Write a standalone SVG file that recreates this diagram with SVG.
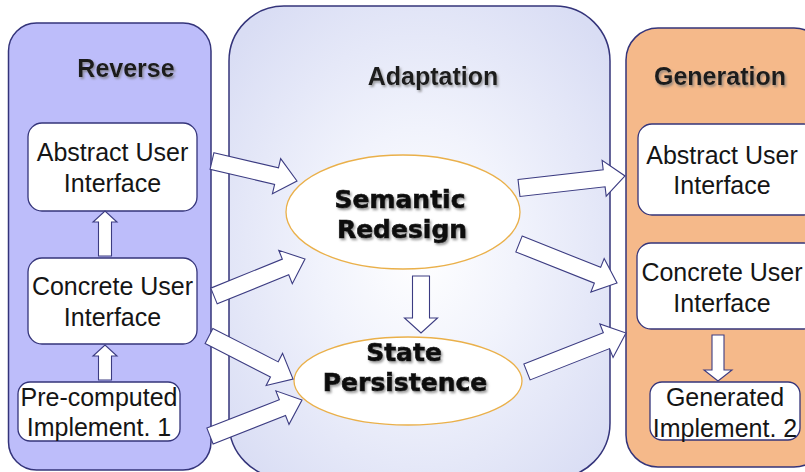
<svg xmlns="http://www.w3.org/2000/svg" width="805" height="472" viewBox="0 0 805 472">
<defs>
<radialGradient id="adaptGrad" cx="0.5" cy="0.52" r="0.65">
<stop offset="0" stop-color="#ffffff"/>
<stop offset="0.4" stop-color="#f1f3fc"/>
<stop offset="1" stop-color="#d9ddf4"/>
</radialGradient>
<filter id="shadow" x="-10%" y="-20%" width="130%" height="150%">
<feDropShadow dx="1.5" dy="2" stdDeviation="1.2" flood-color="#777" flood-opacity="0.7"/>
</filter>
</defs>
<style>
.panel{stroke:#34347a;stroke-width:1.5}
.box{fill:#fff;stroke:#34347a;stroke-width:1.3}
.arrow{fill:#fff;stroke:#3c3c82;stroke-width:1.1;stroke-linejoin:miter}
.title{font-family:"Liberation Sans",Arial,sans-serif;font-weight:bold;font-size:25px;fill:#1e1e1e;text-anchor:middle;filter:url(#shadow)}
.label{font-family:"Liberation Sans",Arial,sans-serif;font-size:25px;fill:#151515;text-anchor:middle}
.ell{fill:#fff;stroke:#eab04a;stroke-width:1.3}
.etext{font-family:"DejaVu Sans",Verdana,sans-serif;font-weight:bold;font-size:25px;fill:#111;stroke:#111;stroke-width:0.7;text-anchor:middle;filter:url(#shadow)}
</style>

<g id="reverse">
<rect class="panel" x="8.5" y="23" width="202.5" height="447" rx="28" fill="#bdbdfa"/>
<text class="title" x="126" y="77">Reverse</text>
</g>
<g id="adaptation">
<rect class="panel" x="229" y="6" width="381" height="472" rx="55" fill="url(#adaptGrad)"/>
<text class="title" x="433" y="85">Adaptation</text>
</g>
<g id="generation">
<rect class="panel" x="626" y="28" width="200" height="439" rx="32" fill="#f5b98a"/>
<text class="title" x="720" y="85">Generation</text>
</g>

<g id="rev-aui">
<rect class="box" x="28" y="123" width="169" height="88" rx="14"/>
<text class="label" x="112.5" y="161">Abstract User</text>
<text class="label" x="112.5" y="192">Interface</text>
</g>
<g id="rev-cui">
<rect class="box" x="28" y="258" width="169" height="86" rx="14"/>
<text class="label" x="112.5" y="295">Concrete User</text>
<text class="label" x="112.5" y="326">Interface</text>
</g>
<g id="rev-impl">
<rect class="box" x="18" y="382" width="162" height="59" rx="12"/>
<text class="label" x="99" y="406">Pre-computed</text>
<text class="label" x="99" y="436">Implement. 1</text>
</g>

<g id="semantic">
<ellipse class="ell" cx="403" cy="212" rx="117" ry="57"/>
<text class="etext" x="400" y="208">Semantic</text>
<text class="etext" x="402" y="238">Redesign</text>
</g>
<g id="state">
<ellipse class="ell" cx="408" cy="381" rx="114" ry="44"/>
<text class="etext" x="404" y="361">State</text>
<text class="etext" x="405" y="391">Persistence</text>
</g>

<g id="gen-aui">
<rect class="box" x="638" y="124" width="180" height="91" rx="14"/>
<text class="label" x="722" y="164">Abstract User</text>
<text class="label" x="722" y="194">Interface</text>
</g>
<g id="gen-cui">
<rect class="box" x="637" y="243" width="181" height="86" rx="14"/>
<text class="label" x="722" y="281">Concrete User</text>
<text class="label" x="722" y="312">Interface</text>
</g>
<g id="gen-impl">
<rect class="box" x="650" y="382" width="150" height="58" rx="12"/>
<text class="label" x="725" y="406">Generated</text>
<text class="label" x="725" y="437">Implement. 2</text>
</g>

<g id="connectors">
<path class="arrow" transform="translate(212,161) rotate(13.2)" d="M0,-8.5 H66.3 V-18 L87.3,0 L66.3,18 V8.5 H0 Z"/>
<path class="arrow" transform="translate(214,296) rotate(-22.1)" d="M0,-8.5 H77.2 V-18 L98.2,0 L77.2,18 V8.5 H0 Z"/>
<path class="arrow" transform="translate(209,336) rotate(27.1)" d="M0,-8.5 H73.4 V-18 L94.4,0 L73.4,18 V8.5 H0 Z"/>
<path class="arrow" transform="translate(210,436) rotate(-21.4)" d="M0,-8.5 H77.8 V-18 L98.8,0 L77.8,18 V8.5 H0 Z"/>
<path class="arrow" transform="translate(519,188) rotate(-6.5)" d="M0,-8.5 H85.7 V-18 L106.7,0 L85.7,18 V8.5 H0 Z"/>
<path class="arrow" transform="translate(519,244) rotate(21.7)" d="M0,-8.5 H84.5 V-18 L105.5,0 L84.5,18 V8.5 H0 Z"/>
<path class="arrow" transform="translate(527,372) rotate(-21.5)" d="M0,-8.5 H85.4 V-18 L106.4,0 L85.4,18 V8.5 H0 Z"/>
<path class="arrow" d="M98.5,256 V222 H93 L105,211 L117,222 H111.5 V256 Z"/>
<path class="arrow" d="M98.5,380 V356 H93 L105,345 L117,356 H111.5 V380 Z"/>
<path class="arrow" d="M412.5,276 V318 H404.5 L421,333 L437.5,318 H429.5 V276 Z"/>
<path class="arrow" d="M712,335 V370 H704 L718,381 L732,370 H724 V335 Z"/>
</g>
</svg>
